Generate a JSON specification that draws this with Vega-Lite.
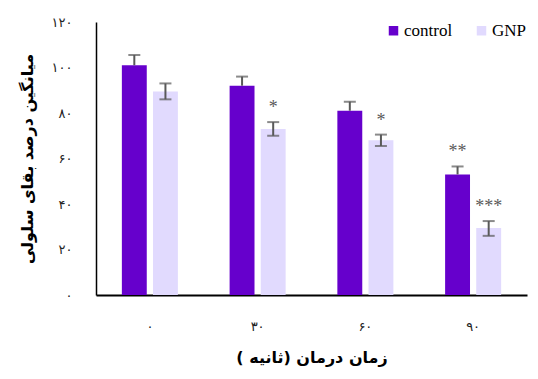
{
  "$schema": "https://vega.github.io/schema/vega-lite/v6.json",
  "width": 431,
  "height": 273,
  "autosize": {"type": "none"},
  "padding": {"left": 96, "top": 22, "right": 11, "bottom": 84},
  "background": "white",
  "config": {
    "view": {"stroke": null},
    "axis": {"grid": false, "ticks": false, "labelFont": "DejaVu Sans", "titleFont": "DejaVu Sans"}
  },
  "data": {
    "values": [
      {"time": "۰", "group": "control", "value": 101, "lo": 101, "hi": 105.5, "capLo": null, "sig": ""},
      {"time": "۰", "group": "GNP", "value": 89.5, "lo": 86, "hi": 93, "capLo": 86, "sig": ""},
      {"time": "۳۰", "group": "control", "value": 92, "lo": 92, "hi": 96, "capLo": null, "sig": ""},
      {"time": "۳۰", "group": "GNP", "value": 73, "lo": 70, "hi": 76, "capLo": 70, "sig": "*"},
      {"time": "۶۰", "group": "control", "value": 81, "lo": 81, "hi": 85, "capLo": null, "sig": ""},
      {"time": "۶۰", "group": "GNP", "value": 68, "lo": 65.5, "hi": 70.5, "capLo": 65.5, "sig": "*"},
      {"time": "۹۰", "group": "control", "value": 53, "lo": 53, "hi": 56.5, "capLo": null, "sig": "**"},
      {"time": "۹۰", "group": "GNP", "value": 29.5, "lo": 26, "hi": 32.5, "capLo": 26, "sig": "***"}
    ]
  },
  "encoding": {
    "x": {
      "field": "time", "type": "nominal", "sort": ["۰", "۳۰", "۶۰", "۹۰"],
      "scale": {"paddingInner": 0.48, "paddingOuter": 0.24},
      "axis": {
        "title": "زمان درمان (ثانیه )", "labelAngle": 0, "labelFontSize": 13, "labelColor": "#222222",
        "labelPadding": 25, "titleFontSize": 16, "titleFontWeight": "bold", "titleColor": "#000000",
        "titlePadding": 16, "domainColor": "#000000", "domainWidth": 2
      }
    },
    "xOffset": {"field": "group", "type": "nominal", "sort": ["control", "GNP"], "scale": {"paddingInner": 0.2}}
  },
  "layer": [
    {
      "mark": {"type": "bar"},
      "encoding": {
        "y": {
          "field": "value", "type": "quantitative",
          "scale": {"domain": [0, 120], "nice": false},
          "axis": {
            "values": [0, 20, 40, 60, 80, 100, 120],
            "labelExpr": "replace(replace(replace(replace(replace(replace(replace(datum.label, regexp('0','g'), '۰'), regexp('1','g'), '۱'), regexp('2','g'), '۲'), regexp('4','g'), '۴'), regexp('6','g'), '۶'), regexp('8','g'), '۸'), regexp(',','g'), '')",
            "title": "میانگین درصد بقای سلولی", "labelFontSize": 13, "labelColor": "#222222",
            "labelPadding": 24, "titleFontSize": 16, "titleFontWeight": "bold", "titleColor": "#000000",
            "titlePadding": 16, "domainColor": "#000000", "domainWidth": 1.5
          }
        },
        "color": {
          "field": "group", "type": "nominal", "sort": ["control", "GNP"],
          "scale": {"domain": ["control", "GNP"], "range": ["#6600cc", "#e1dafe"]},
          "legend": {
            "title": null, "orient": "none", "legendX": 289, "legendY": 0, "direction": "horizontal",
            "symbolType": "square", "symbolSize": 90, "symbolStrokeWidth": 0, "labelFont": "Times New Roman, Liberation Serif, DejaVu Serif, serif",
            "labelFontSize": 17, "labelColor": "#000000", "labelOffset": 2, "columnPadding": 20
          }
        }
      }
    },
    {
      "mark": {"type": "rule", "color": "#595959", "strokeWidth": 2},
      "encoding": {"y": {"field": "lo", "type": "quantitative"}, "y2": {"field": "hi"}}
    },
    {
      "mark": {"type": "tick", "color": "#595959", "orient": "horizontal", "size": 12, "thickness": 2},
      "encoding": {"y": {"field": "hi", "type": "quantitative"}}
    },
    {
      "mark": {"type": "tick", "color": "#595959", "orient": "horizontal", "size": 12, "thickness": 2},
      "encoding": {"y": {"field": "capLo", "type": "quantitative"}}
    },
    {
      "mark": {"type": "text", "color": "#595959", "font": "Times New Roman, Liberation Serif, DejaVu Serif, serif", "fontSize": 18, "baseline": "middle", "dy": -14},
      "encoding": {"y": {"field": "hi", "type": "quantitative"}, "text": {"field": "sig"}}
    }
  ]
}
